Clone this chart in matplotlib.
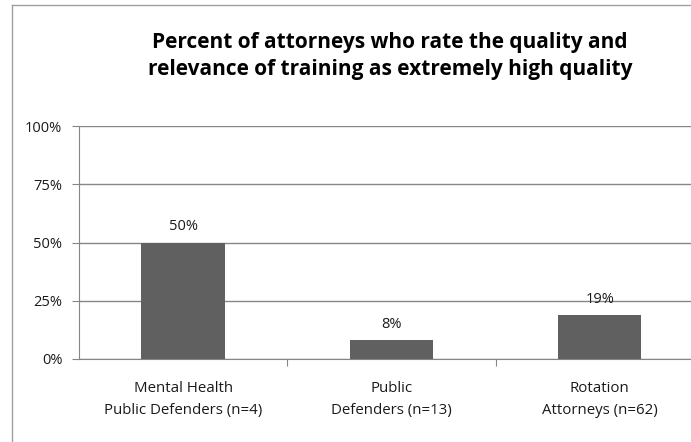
import matplotlib.pyplot as plt
from matplotlib.lines import Line2D

categories = ['Mental Health\nPublic Defenders (n=4)', 'Public\nDefenders (n=13)', 'Rotation\nAttorneys (n=62)']
values = [50, 8, 19]
yticks = [0, 25, 50, 75, 100]

plt.rcParams['font.family'] = ['Open Sans', 'DejaVu Sans']

W, H = 691, 442
fig = plt.figure(figsize=(W / 100, H / 100), dpi=100)
ax = fig.add_axes([79 / W, 1 - 359 / H, (704 - 79) / W, (359 - 126) / H])

x = list(range(len(categories)))
ax.bar(x, values, width=0.40, color='#606060', zorder=3)
for xi, v in zip(x, values):
    ax.text(xi, v + 3.5, '%d%%' % v, ha='center', va='bottom', fontsize=10.5, color='#1a1a1a')

ax.set_xlim(-0.5, 2.5)
ax.set_ylim(0, 100)
ax.set_yticks(yticks)
ax.set_yticklabels(['%d%%' % t for t in yticks], fontsize=10.5, color='#1a1a1a')
ax.yaxis.grid(True, color='#868686', linewidth=1, zorder=0)

ax.set_xticks([0.5, 1.5])
ax.set_xticklabels([])
ax.tick_params(axis='x', length=5, color='#868686', direction='out')
ax.tick_params(axis='y', length=5, color='#868686', direction='out', pad=7)
for xi, c in zip(x, categories):
    ax.text(xi, -9.5, c, ha='center', va='top', fontsize=10.8, color='#1a1a1a', linespacing=1.6)

for s in ['top', 'right']:
    ax.spines[s].set_visible(False)
for s in ['left', 'bottom']:
    ax.spines[s].set_color('#868686')

fig.text(390 / W, 1 - 56 / H, 'Percent of attorneys who rate the quality and\nrelevance of training as extremely high quality',
         ha='center', va='center', fontsize=15, fontweight='bold', linespacing=1.35)

# outer chart border (only top and left are inside the picture)
fig.add_artist(Line2D([12 / W, 1], [1 - 5 / H, 1 - 5 / H], transform=fig.transFigure, color='#a0a0a0', linewidth=1))
fig.add_artist(Line2D([12 / W, 12 / W], [0, 1 - 5 / H], transform=fig.transFigure, color='#a0a0a0', linewidth=1))

fig.savefig('out.png', dpi=100)
